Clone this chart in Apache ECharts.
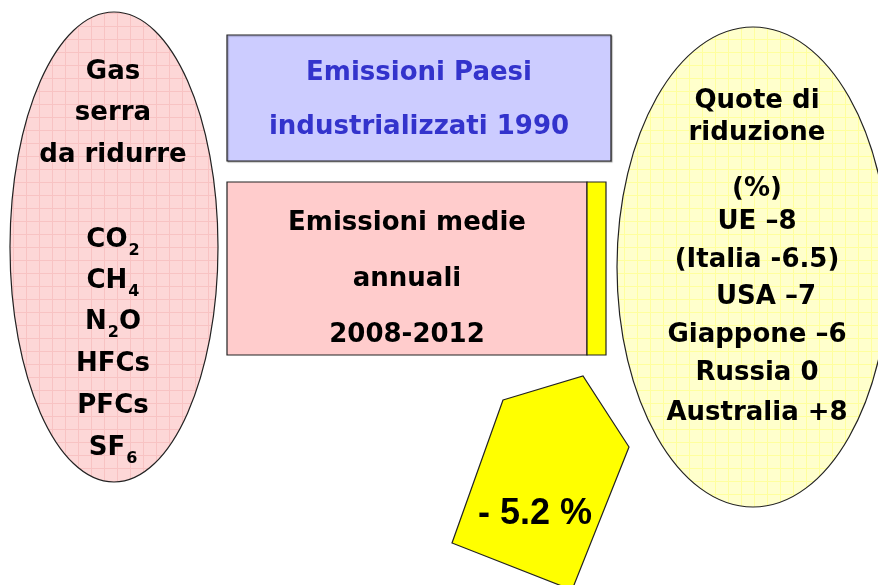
<!DOCTYPE html>
<html><head><meta charset="utf-8">
<script src="https://cdn.jsdelivr.net/npm/echarts@6/dist/echarts.min.js"></script>
<style>html,body{margin:0;padding:0;background:#fff}#c{width:878px;height:585px}</style>
</head><body><div id="c"></div>
<script>
// Text content
const leftTitle = ['Gas', 'serra', 'da ridurre'];
const gases = ['{m|CO}{s|2}', '{m|CH}{s|4}', '{m|N}{s|2}{m|O}', '{m|HFCs}', '{m|PFCs}', '{m|SF}{s|6}'];
const topBoxLines = ['Emissioni Paesi', 'industrializzati 1990'];
const midBoxLines = ['Emissioni medie', 'annuali', '2008-2012'];
const reductionLabel = '- 5.2 %';
const rightTitle = ['Quote di', 'riduzione'];
const quotas = ['(%)', 'UE \u20138', '(Italia -6.5)', '  USA \u20137', 'Giappone \u20136', 'Russia 0', 'Australia +8'];

function gridPattern(bg, line) {
  const c = document.createElement('canvas');
  c.width = 13; c.height = 13;
  const g = c.getContext('2d');
  g.fillStyle = bg; g.fillRect(0, 0, 13, 13);
  g.fillStyle = line; g.fillRect(0, 0, 13, 1); g.fillRect(0, 0, 1, 13);
  return { image: c, repeat: 'repeat' };
}

const FONT = '"DejaVu Sans", sans-serif';
const F = 'bold 26px ' + FONT;
const chart = echarts.init(document.getElementById('c'), null, { renderer: 'canvas' });
const els = [];

function txt(x, y, text, opt) {
  els.push({
    type: 'text', x: x, y: y, z: 10,
    style: Object.assign({
      text: text, fill: '#000', font: F,
      align: 'center', verticalAlign: 'middle'
    }, opt || {})
  });
}

// left ellipse
els.push({ type: 'ellipse', shape: { cx: 114, cy: 247, rx: 104, ry: 235 },
  style: { fill: gridPattern('#fdd7d7', '#f8c3c3'), stroke: '#222', lineWidth: 1.2 } });
const leftTitleY = [72, 113, 155];
leftTitle.forEach((t, i) => txt(113, leftTitleY[i], t));
const gasY = [240, 281, 322, 364, 406, 448];
gases.forEach((t, i) => txt(113, gasY[i] + 3, t, {
  rich: {
    m: { font: F, fill: '#000', lineHeight: 31, verticalAlign: 'top' },
    s: { font: 'bold 16px ' + FONT, fill: '#000', lineHeight: 16, verticalAlign: 'bottom', padding: [0, 0, 0, 1] }
  }
}));

// top blue box
els.push({ type: 'rect', shape: { x: 227, y: 35, width: 384, height: 126 },
  style: { fill: '#ccccff', stroke: '#222', lineWidth: 1.2, shadowColor: 'rgba(0,0,0,0.3)', shadowOffsetX: 1, shadowOffsetY: 1, shadowBlur: 1 } });
txt(419, 73, topBoxLines[0], { fill: '#3333cc' });
txt(419, 127, topBoxLines[1], { fill: '#3333cc' });

// mid pink box + yellow strip
els.push({ type: 'rect', shape: { x: 227, y: 182, width: 360, height: 173 },
  style: { fill: '#ffcccc', stroke: '#222', lineWidth: 1.2 } });
els.push({ type: 'rect', shape: { x: 587, y: 182, width: 19, height: 173 },
  style: { fill: '#ffff00', stroke: '#222', lineWidth: 1.2 } });
const midY = [223, 279, 335];
midBoxLines.forEach((t, i) => txt(407, midY[i], t));

// yellow pentagon
els.push({ type: 'polygon', shape: { points: [[503, 400], [583, 376], [629, 447], [572, 590], [452, 543]] },
  style: { fill: '#ffff00', stroke: '#222', lineWidth: 1.2 } });
txt(535, 514, reductionLabel, { font: 'bold 36px "Liberation Sans", Arial, sans-serif' });

// right ellipse
els.push({ type: 'ellipse', shape: { cx: 753, cy: 267, rx: 136, ry: 240 },
  style: { fill: gridPattern('#ffffcc', '#ffff9e'), stroke: '#222', lineWidth: 1.2 } });
const rightTitleY = [101, 133];
rightTitle.forEach((t, i) => txt(757, rightTitleY[i], t));
const quotaY = [189, 222, 260, 297, 335, 373, 413];
quotas.forEach((t, i) => txt(757, quotaY[i], t));

chart.setOption({ animation: false, graphic: { elements: els } });
</script></body></html>
